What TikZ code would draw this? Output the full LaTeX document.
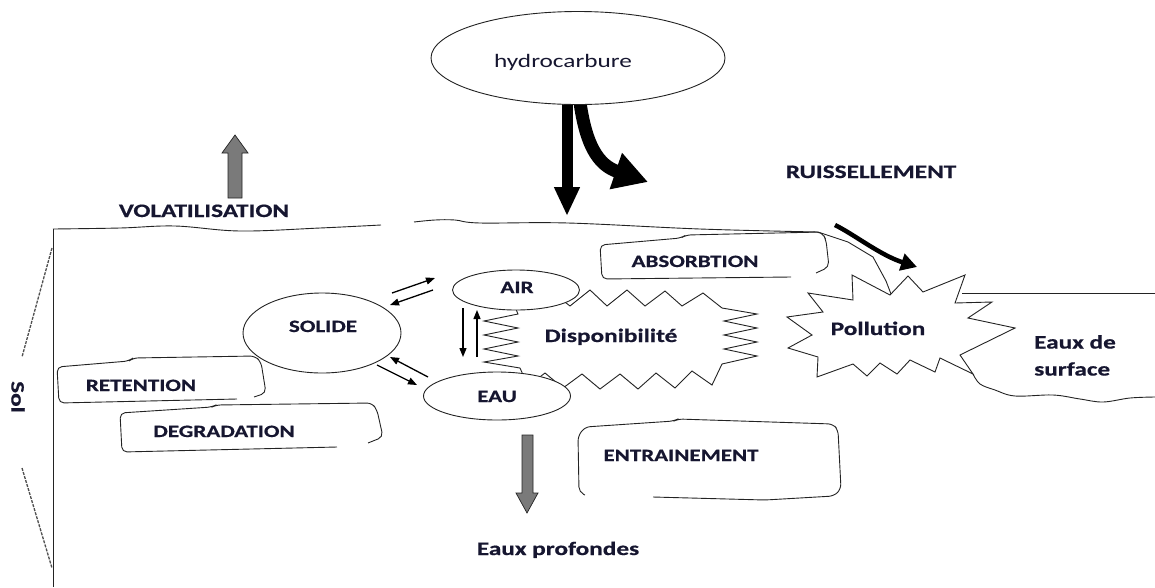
\documentclass[tikz,border=0pt]{standalone}
\usepackage{fontspec}
\setmainfont{Carlito}
\newfontfamily\cf[FakeStretch=1.33, BoldFeatures={FakeBold=0.6}]{Carlito}
\usetikzlibrary{arrows.meta,shapes.geometric}
\definecolor{ink}{RGB}{22,22,48}
\definecolor{ln}{RGB}{35,35,35}
\definecolor{gr}{RGB}{122,122,122}
\begin{document}
\begin{tikzpicture}[x=1pt,y=-1pt,
  big/.style={font=\cf\bfseries\fontsize{19}{27}\selectfont, text=ink, inner sep=0pt},
  bigr/.style={font=\cf\fontsize{19}{27}\selectfont, text=ink, inner sep=0pt},
  capl/.style={font=\cf\bfseries\fontsize{17.3}{20}\selectfont, text=ink, inner sep=0pt},
  oval/.style={ellipse, draw=ln, line width=0.9pt, fill=white, inner sep=0pt},
  hand/.style={draw=ln, line width=0.9pt, rounded corners=5pt},
  thinl/.style={draw=ln, line width=0.9pt},
  sm/.style={draw=black, line width=1.3pt, -{Triangle[length=9pt,width=7pt]}},
  blockarrow/.style={fill=gr, draw=ln, line width=0.7pt},
  soldash/.style={draw=ln!80, line width=1.3pt, dash pattern=on 3pt off 1.2pt},
]
\useasboundingbox (0,0) rectangle (1155,587);

% ---------- surface / soil outline ----------
\draw[thinl] (53,587) -- (53,229);
\draw[thinl] plot[smooth, tension=0.6] coordinates {(53,229) (120,228) (175,226) (240,231) (320,228) (381,225)};
\draw[thinl] plot[smooth, tension=0.6] coordinates {(414,222) (435,220) (455,220) (480,223) (568,223) (700,229) (818,232)};
\draw[thinl] (818,232) -- (848,242) -- (873,257) -- (886,281) -- (891,294);
\draw[thinl] (962,293) -- (1155,293);
\draw[thinl] plot[smooth, tension=0.6] coordinates {(973,374) (980,384) (995,390) (1015,396) (1053,395) (1080,399) (1103,402) (1130,398) (1155,397)};

% Sol brace
\draw[soldash] (52,248) -- (22,357);
\draw[soldash] (22,468) -- (52,568);
\node[big, rotate=-90] (sol) at (18,397) {Sol};

% ---------- hydrocarbure and its arrows ----------
\coordinate (hydA) at (567,95);
\coordinate (hitA) at (567,216);
\coordinate (hydB) at (579,95);
\coordinate (hitB) at (648,182);
\draw[black, line width=11pt, -{Triangle[length=29pt,width=24pt]}] (hydA) -- (hitA);
\draw[black, line width=13pt, -{Triangle[length=34pt,width=36pt]}] (hydB) .. controls (585,145) and (598,165) .. (hitB);
\node[oval, minimum width=294pt, minimum height=93pt] (hyd) at (578,58) {};
\node[bigr, anchor=base] (thyd) at (563,67) {hydrocarbure};

% volatilisation arrow
\filldraw[blockarrow] (228,198) -- (228,153) -- (222,153) -- (235,135) -- (248,153) -- (242,153) -- (242,198) -- cycle;
\node[big, anchor=base] (tvol) at (204,217) {VOLATILISATION};
\node[big, anchor=base] (truis) at (871,178) {RUISSELLEMENT};

% ruissellement arrow
\coordinate (rA) at (835,225);
\coordinate (rB) at (917,267);
\draw[black, line width=4.5pt, -{Triangle[length=16pt,width=17pt]}] (rA) .. controls (855,235) and (880,255) .. (rB);

% ---------- boxes ----------
\draw[hand] (791,277) -- (602,279) -- (600,245) -- (681,238) -- (686,235) -- (822,232) -- (826,240) -- (829,267) -- (816,273);
\node[capl, anchor=base] (tabs) at (695,267) {ABSORBTION};

\draw[hand] (237,399) -- (59,403) -- (57,367) -- (129,361) -- (133,358) -- (255,356) -- (261,362) -- (266,393) -- (254,397);
\node[capl, anchor=base] (tret) at (141,391) {RETENTION};

\draw[hand] (337,447) -- (122,452) -- (120,413) -- (212,407) -- (216,405) -- (372,403) -- (377,410) -- (383,437) -- (368,443);
\node[capl, anchor=base] (tdeg) at (224,437) {DEGRADATION};

\draw[hand] (585,495) -- (579,492) -- (578,436) -- (585,427) -- (674,421) -- (678,419) -- (833,424) -- (838,430) -- (841,489) -- (834,496) -- (765,500) -- (653,497);
\node[capl, anchor=base] (tent) at (681,461) {ENTRAINEMENT};

% ---------- Disponibilite star ----------
\draw[thinl, fill=white] (535,308) -- (552,292) -- (570,306) -- (590,290) -- (607,306) -- (627,290) -- (645,306) -- (665,291) -- (682,306) -- (703,293) -- (722,308)
 -- (757,314) -- (724,321) -- (757,328) -- (724,335) -- (757,342) -- (724,349) -- (757,356) -- (722,364)
 -- (712,385) -- (692,371) -- (675,388) -- (656,373) -- (638,389) -- (620,374) -- (600,389) -- (582,374) -- (563,388) -- (545,373) -- (528,386) -- (520,368)
 -- (484,362) -- (518,356) -- (484,349) -- (518,342) -- (484,335) -- (518,328) -- (484,321) -- (518,314) -- (512,300) -- cycle;
\node[big, anchor=base] (tdisp) at (611,342) {Disponibilité};

% ---------- Pollution star ----------
\draw[thinl, fill=white] (852,275) -- (853,300) -- (808,293) -- (823,312) -- (787,317) -- (812,335) -- (788,348) -- (818,357) -- (817,377) -- (853,364) -- (867,376) -- (880,363) -- (897,374) -- (910,360) -- (935,372) -- (940,358) -- (973,374) -- (960,355) -- (1015,328) -- (968,318) -- (992,302) -- (955,303) -- (965,275) -- (923,292) -- (908,276) -- (890,295) -- cycle;
\node[big, anchor=base] (tpol) at (878,335) {Pollution};

\node[big, anchor=north west, align=left] (tsurf) at (1034,335) {Eaux de\\surface};

% ---------- phase ellipses ----------
\node[oval, minimum width=158pt, minimum height=80pt] (solide) at (322,333) {};
\node[capl, anchor=base] (tsol) at (323,332) {SOLIDE};
\node[oval, minimum width=127pt, minimum height=40pt] (air) at (516,290) {};
\node[capl, anchor=base] (tair) at (517,293) {AIR};
\node[oval, minimum width=147pt, minimum height=48pt] (eau) at (497,396) {};
\node[capl, anchor=base] (teau) at (497,402) {EAU};

% exchange arrows
\coordinate (s1) at (392,293); \coordinate (a1) at (435,278);
\coordinate (a2) at (433,290); \coordinate (s2) at (390,305);
\coordinate (e1) at (428,377); \coordinate (s3) at (390,357);
\coordinate (s4) at (377,365); \coordinate (e2) at (417,385);
\coordinate (a3) at (463,308); \coordinate (e3) at (463,357);
\coordinate (e4) at (477,357); \coordinate (a4) at (477,310);
\draw[sm] (s1) -- (a1);
\draw[sm] (a2) -- (s2);
\draw[sm] (e1) -- (s3);
\draw[sm] (s4) -- (e2);
\draw[sm] (a3) -- (e3);
\draw[sm] (e4) -- (a4);

% deep water arrow
\filldraw[blockarrow] (522,435) -- (533,435) -- (533,493) -- (538,493) -- (527,513) -- (516,493) -- (522,493) -- cycle;
\node[big, anchor=base] (tprof) at (558,555) {Eaux profondes};

\end{tikzpicture}
\end{document}
